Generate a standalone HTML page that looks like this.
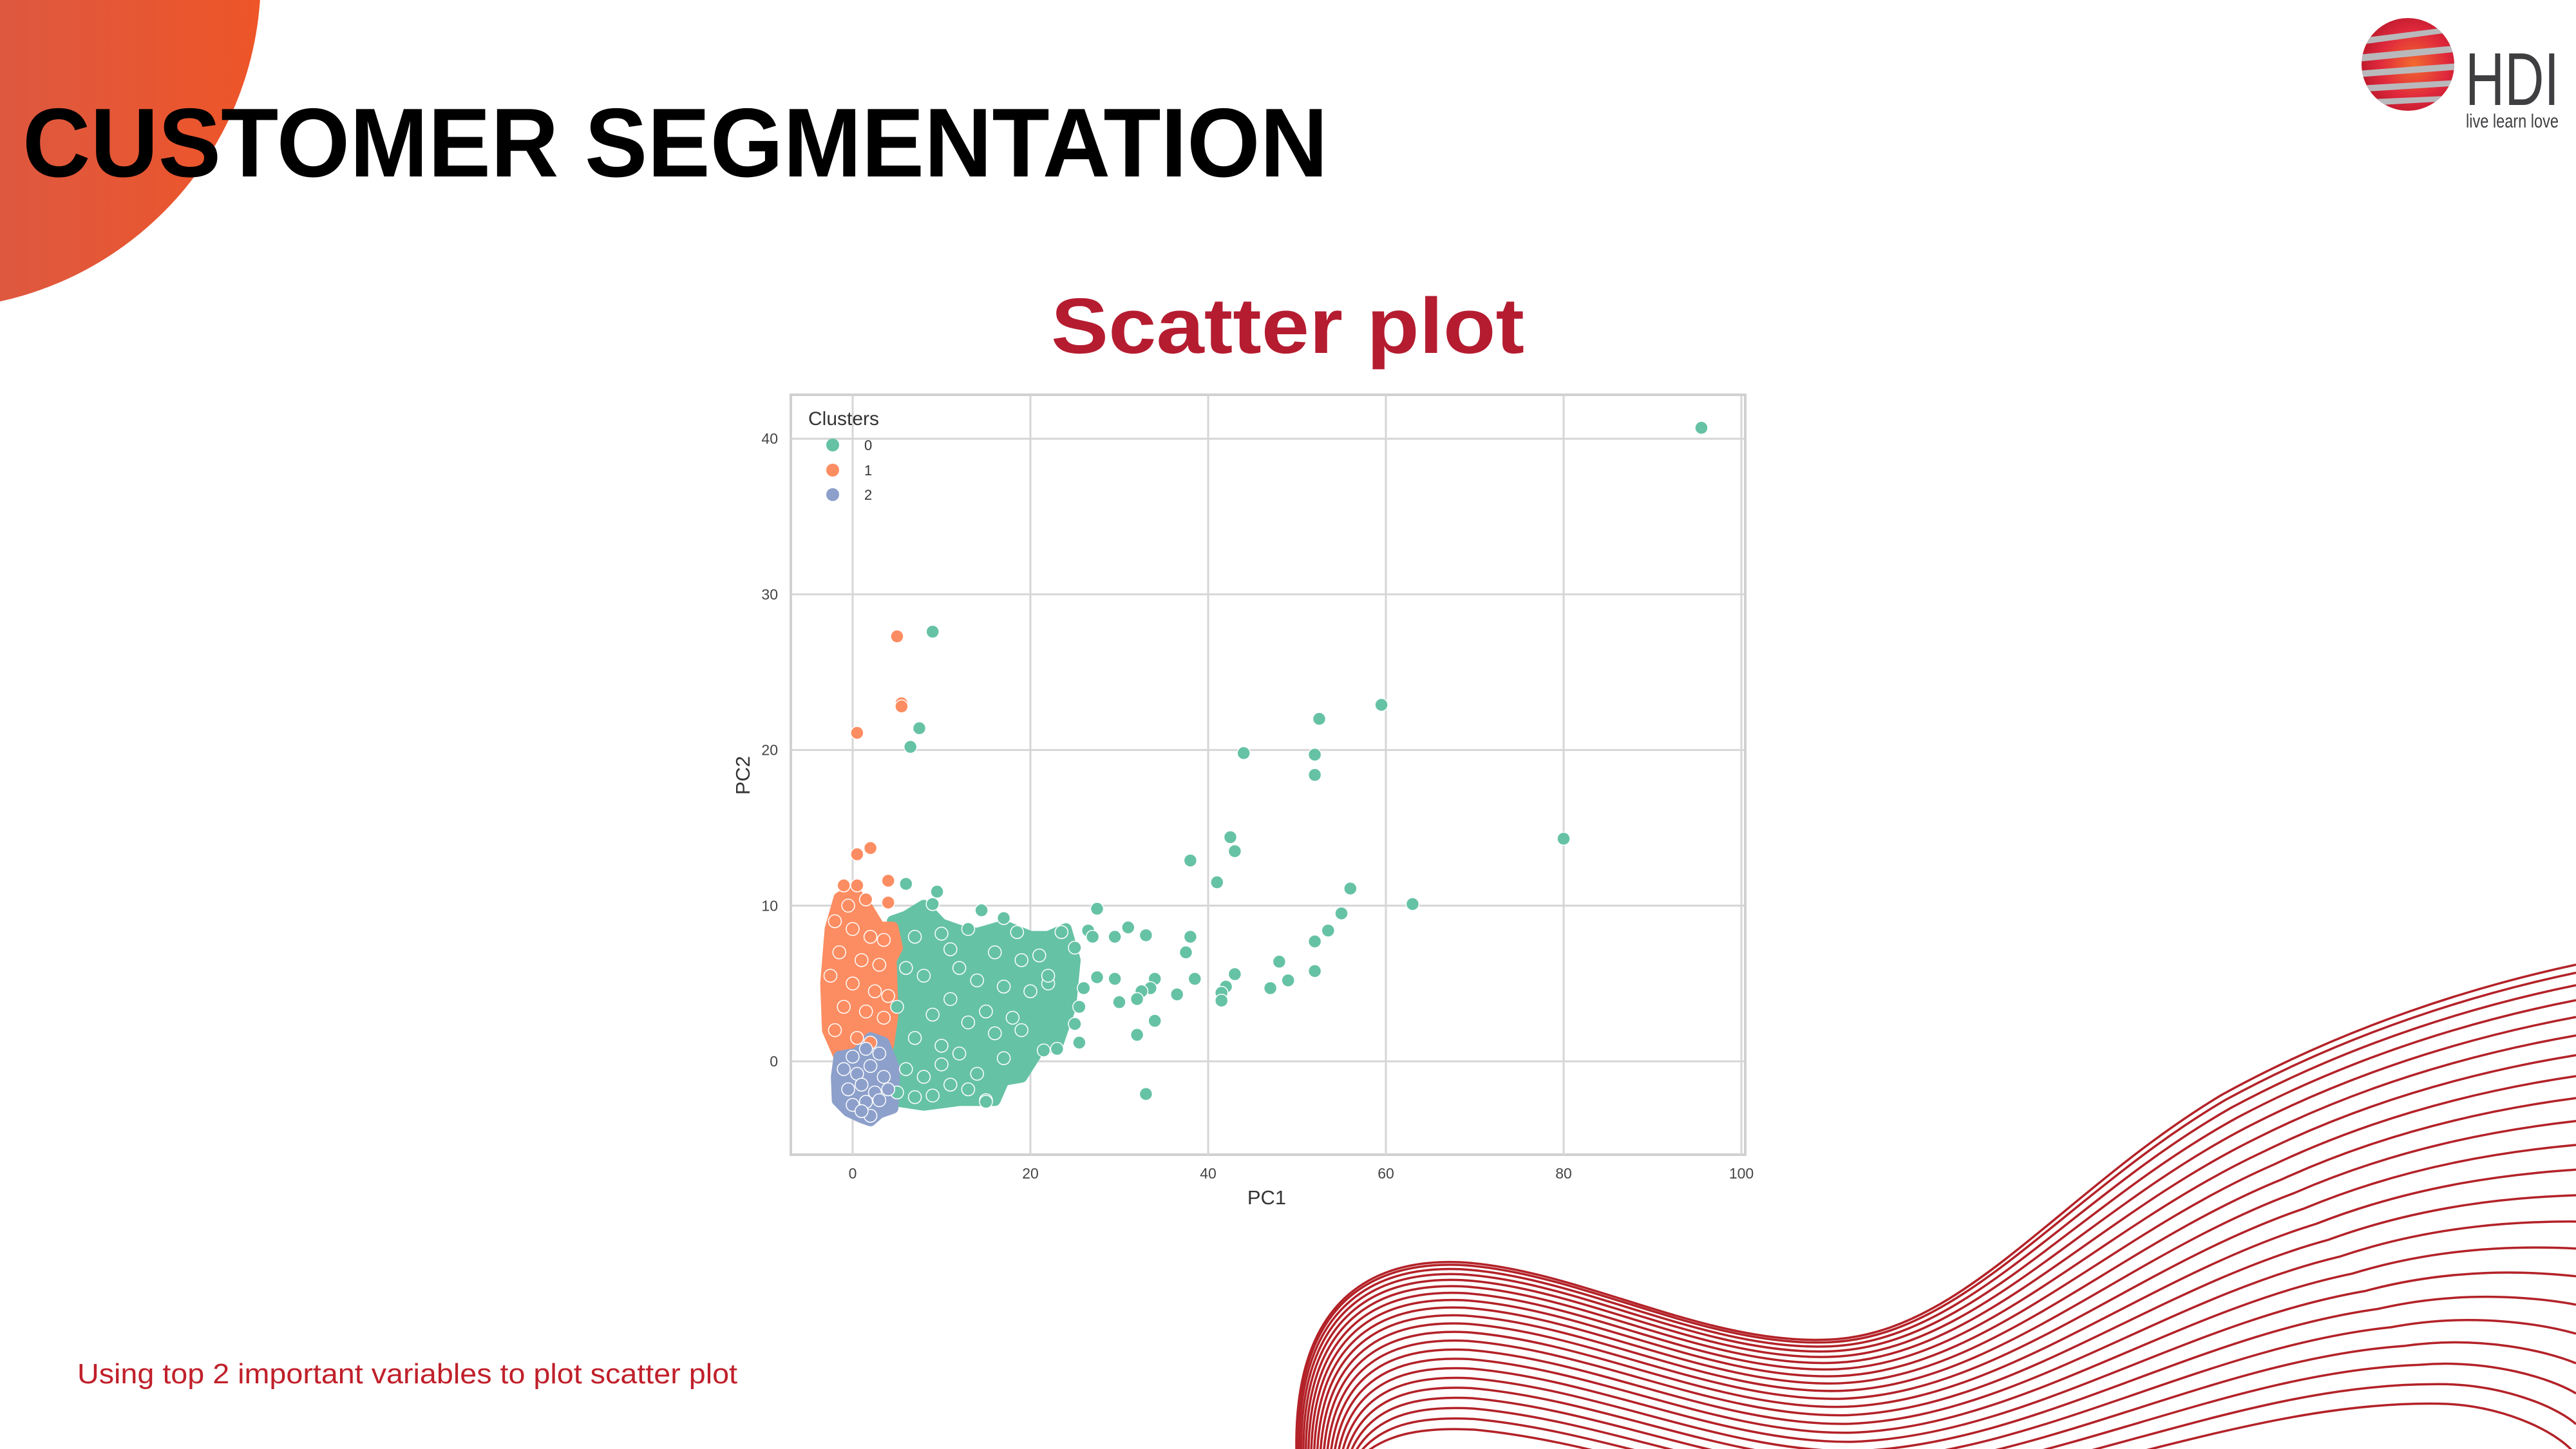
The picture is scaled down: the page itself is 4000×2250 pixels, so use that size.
<!DOCTYPE html>
<html><head><meta charset="utf-8"><style>
html,body{margin:0;padding:0;background:#fff;}
svg{display:block;}
text{font-family:"Liberation Sans",Arial,sans-serif;}
</style></head><body>
<svg id="page" width="4000" height="2250" viewBox="0 0 4000 2250" xmlns="http://www.w3.org/2000/svg">
<defs>
<linearGradient id="cg" x1="0" x2="1" y1="0" y2="0">
<stop offset="0" stop-color="#dd9c9c"/><stop offset="0.45" stop-color="#d75a4a"/><stop offset="1" stop-color="#ee5528"/>
</linearGradient>
<radialGradient id="sg" cx="0.55" cy="0.5" r="0.55">
<stop offset="0" stop-color="#f26a2e"/><stop offset="0.6" stop-color="#e0283c"/><stop offset="1" stop-color="#b8182a"/>
</radialGradient>
<clipPath id="sphereClip"><circle cx="3739" cy="100" r="72"/></clipPath>
<clipPath id="plotClip"><rect x="1228" y="613" width="1482" height="1180"/></clipPath>
</defs>
<circle cx="-110" cy="-35" r="515" fill="url(#cg)"/>
<text x="35" y="274" font-size="152" font-weight="bold" fill="#000" textLength="2027" lengthAdjust="spacingAndGlyphs">CUSTOMER SEGMENTATION</text>
<text x="1632" y="548" font-size="122" font-weight="bold" fill="#b51c30" textLength="735" lengthAdjust="spacingAndGlyphs">Scatter plot</text>
<text x="120" y="2148" font-size="44" fill="#c0202a" textLength="1025" lengthAdjust="spacingAndGlyphs">Using top 2 important variables to plot scatter plot</text>

<g>
<g clip-path="url(#sphereClip)">
<rect x="3660" y="20" width="160" height="160" fill="url(#sg)"/>
<g fill="#b9b9bc">
<polygon points="3660,60 3820,40 3820,48 3660,70"/>
<polygon points="3660,85 3820,70 3820,80 3660,96"/>
<polygon points="3660,110 3820,98 3820,108 3660,120"/>
<polygon points="3660,133 3820,124 3820,133 3660,143"/>
<polygon points="3660,155 3820,148 3820,156 3660,165"/>
</g>
</g>
<text x="3828" y="163" font-size="116" fill="#3f3f42" textLength="146" lengthAdjust="spacingAndGlyphs">HDI</text>
<text x="3829" y="198" font-size="30" fill="#3f3f42" textLength="144" lengthAdjust="spacingAndGlyphs">live learn love</text>
</g>

<g id="waves" fill="none" stroke="#b32228" stroke-width="3.5"></g>

<g id="chart">
<rect x="1228" y="613" width="1482" height="1180" fill="#fff" stroke="#d0d0d0" stroke-width="4"/>
<g id="grid"></g>
<g id="hulls" clip-path="url(#plotClip)"></g>
<g id="points" clip-path="url(#plotClip)"></g>
<g id="ticks"></g>
<text x="1967" y="1870" font-size="31" fill="#333" text-anchor="middle">PC1</text>
<text transform="translate(1164,1204) rotate(-90)" font-size="31" fill="#333" text-anchor="middle">PC2</text>
<g>
<text x="1255" y="660" font-size="30" fill="#333">Clusters</text>
<circle cx="1293" cy="691" r="10" fill="#66c2a5"/>
<text x="1342" y="699" font-size="22" fill="#333">0</text>
<circle cx="1293" cy="730" r="10" fill="#fc8d62"/>
<text x="1342" y="738" font-size="22" fill="#333">1</text>
<circle cx="1293" cy="768" r="10" fill="#8da0cb"/>
<text x="1342" y="776" font-size="22" fill="#333">2</text>
</g>
</g>
</svg>
<script>
// ---- chart data ----
const xTicks = [0, 20, 40, 60, 80, 100];
const yTicks = [0, 10, 20, 30, 40];
const clusterColors = ["#66c2a5", "#fc8d62", "#8da0cb"];
// dense cluster regions (data units: [pc1, pc2])
const hull0 = [[4.5,9],[6,9.3],[8,10],[10,8.8],[12,8.4],[14,8.2],[17,8.7],[20,8],[22,8],[24,8.5],[25,6.5],[24.5,3.5],[23,1],[21,0.8],[19,-1],[17,-1.2],[16,-2.5],[12,-2.5],[8,-2.8],[4.5,-2.5]];
const hull1 = [[-2.5,8.5],[-1.5,10.5],[0,11],[1.5,10],[3,8.6],[4.5,8.6],[5,7.3],[4.3,6.5],[4.5,3],[4,1],[2,1.8],[0.5,0.3],[-1.5,0.3],[-2.8,2],[-3,5]];
const hull2 = [[-1.5,0.3],[0.5,0.5],[2,1.5],[3.5,1.2],[4.7,-0.5],[4.5,-3],[3,-3.3],[2,-3.8],[1,-3.6],[-0.5,-3.2],[-1.7,-2.5],[-1.8,-1]];
// cluster 0 points
const pc1_c0 = [95.5,9,7.5,6.5,44,52.5,59.5,52,52,42.5,43,38,41,56,63,80,55,53.5,52,48,52,49,47,43,42,41.5,41.5,38.5,38,37.5,36.5,34,33,33.5,32.5,32,34,32,33,31,29.5,30,29.5,27.5,27.5,26.5,27,26,25,25,25.5,25.5,23.5,23,22,21.5,15,14.5,17,9,9.5,6,10,18.5,13,7,11,16,19,21,6,8,12,14,17,20,22,5,9,11,13,15,18,7,10,12,16,19,6,8,14,17,5,9,11,13,7,10,15,6];
const pc2_c0 = [40.7,27.6,21.4,20.2,19.8,22,22.9,19.7,18.4,14.4,13.5,12.9,11.5,11.1,10.1,14.3,9.5,8.4,7.7,6.4,5.8,5.2,4.7,5.6,4.8,4.4,3.9,5.3,8,7,4.3,5.3,8.1,4.7,4.5,4,2.6,1.7,-2.1,8.6,8,3.8,5.3,9.8,5.4,8.4,8,4.7,7.3,2.4,1.2,3.5,8.3,0.8,5,0.7,-2.5,9.7,9.2,10.1,10.9,11.4,8.2,8.3,8.5,8,7.2,7,6.5,6.8,6,5.5,6,5.2,4.8,4.5,5.5,3.5,3,4,2.5,3.2,2.8,1.5,1,0.5,1.8,2,-0.5,-1,-0.8,0.2,-2,-2.2,-1.5,-1.8,-2.3,-0.2,-2.6];
// cluster 1 points
const pc1_c1 = [5,5.5,5.5,0.5,0.5,2,4,-1,0.5,4,1.5,-0.5,-2,0,2,3.5,-1.5,1,3,-2.5,0,2.5,4,-1,1.5,3.5,-2,0.5,2];
const pc2_c1 = [27.3,23,22.8,21.1,13.3,13.7,11.6,11.3,11.3,10.2,10.4,10,9,8.5,8,7.8,7,6.5,6.2,5.5,5,4.5,4.2,3.5,3.2,2.8,2,1.5,1.2];
// cluster 2 points
const pc1_c2 = [0,1.5,3,-1,0.5,2,3.5,-0.5,1,2.5,4,0,1.5,3,2,1];
const pc2_c2 = [0.3,0.8,0.5,-0.5,-0.8,-0.3,-1,-1.8,-1.5,-2,-1.8,-2.8,-2.6,-2.5,-3.5,-3.2];

// ---- axes ----
const X0 = 1324, XS = 13.8;  // px for pc1 = 0, px per unit
const Y0 = 1648, YS = 24.17;
const xAxis = v => X0 + v * XS;
const yAxis = v => Y0 - v * YS;
const NS = "http://www.w3.org/2000/svg";
const mk = (tag, attrs, parent) => { const e = document.createElementNS(NS, tag); for (const k in attrs) e.setAttribute(k, attrs[k]); parent.appendChild(e); return e; };

const grid = document.getElementById('grid'), ticks = document.getElementById('ticks');
xTicks.forEach(t => {
  const l = mk('line', {x1: xAxis(t), x2: xAxis(t), y1: 613, y2: 1793, stroke: '#d6d6d6', 'stroke-width': 3}, grid);
  
  
  const tx = mk('text', {x: xAxis(t), y: 1830, 'font-size': 23, fill: '#444', 'text-anchor': 'middle'}, ticks);
  tx.textContent = t;
  
  
});
yTicks.forEach(t => {
  const l = mk('line', {x1: 1228, x2: 2710, y1: yAxis(t), y2: yAxis(t), stroke: '#d6d6d6', 'stroke-width': 3}, grid);
  
  
  const tx = mk('text', {x: 1208, y: yAxis(t) + 8, 'font-size': 23, fill: '#444', 'text-anchor': 'end'}, ticks);
  tx.textContent = t;
  
  
});

const hulls = document.getElementById('hulls');
[hull0, hull1, hull2].forEach((h, i) => {
  const p = mk('polygon', {points: h.map(q => xAxis(q[0]) + ',' + yAxis(q[1])).join(' '), fill: clusterColors[i], stroke: clusterColors[i], 'stroke-width': 18, 'stroke-linejoin': 'round'}, hulls);
  
  
});
const pts = document.getElementById('points');
[[pc1_c0, pc2_c0], [pc1_c1, pc2_c1], [pc1_c2, pc2_c2]].forEach((s, i) => {
  s[0].forEach((x, j) => {
    const c = mk('circle', {cx: xAxis(x), cy: yAxis(s[1][j]), r: 10, fill: clusterColors[i], stroke: '#fff', 'stroke-width': 1.5}, pts);
    
    
  });
});

// ---- decorative waves ----
const topC = [2013,2250, 2010,2000,2150,1955,2268,1960, 2450,1970,2650,2090,2842,2080, 3050,2070,3200,1850,3450,1700, 3650,1590,3850,1530,4000,1498];
const botC = [2115,2260, 2150,2230,2200,2215,2290,2220, 2500,2240,2700,2330,2900,2330, 3200,2320,3500,2170,3800,2180, 3900,2185,3980,2230,4000,2260];
const waves = document.getElementById('waves');
const N = 22;
for (let i = 0; i < N; i++) {
  const t = Math.pow(i / (N - 1), 1.35);
  const p = topC.map((v, k) => v + (botC[k] - v) * t);
  let d = 'M' + p[0] + ',' + p[1];
  for (let k = 2; k < p.length; k += 6) d += ' C' + p.slice(k, k + 6).join(',');
  const path = mk('path', {d: d}, waves);
  
  
}
</script>
</body></html>
